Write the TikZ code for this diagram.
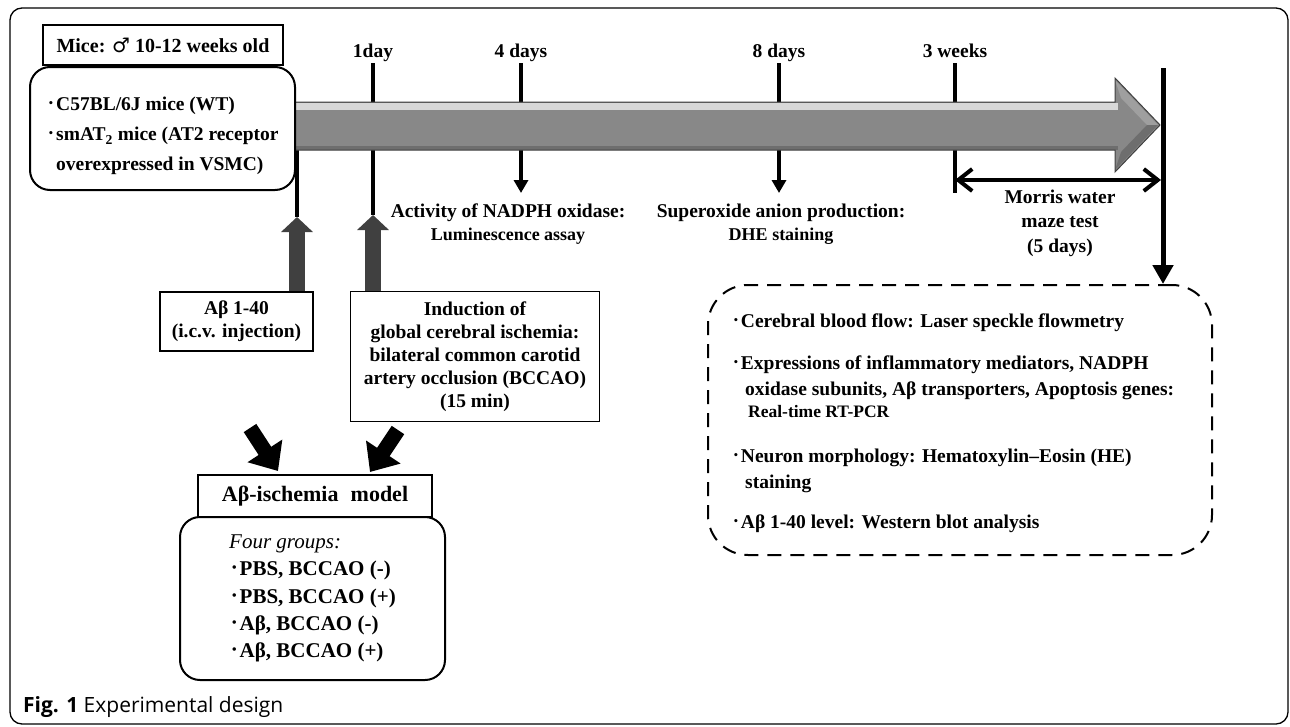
\documentclass[tikz,border=0pt]{standalone}
\usepackage{fontspec}
\setmainfont{Liberation Serif}
\newfontfamily\capfont{Open Sans}
\newfontfamily\symfont{DejaVu Sans}
\newfontfamily\cjk{Noto Sans CJK JP}
\usetikzlibrary{arrows.meta,positioning}
\definecolor{upgray}{HTML}{404040}
\definecolor{shaftmid}{HTML}{888888}
\definecolor{shaftlight}{HTML}{D8D8D8}
\definecolor{shaftdark}{HTML}{6E6E6E}
\newcommand\bul{{\cjk\mdseries ･}}
\tikzstyle{outerframe}=[line width=1.3pt, rounded corners=12pt]
\tikzstyle{box}=[draw, line width=1.5pt, align=center, inner sep=0pt, font=\bfseries\fontsize{19.5}{23}\selectfont]
\tikzstyle{rbox}=[draw, line width=2pt, rounded corners=20pt, align=left, inner sep=0pt, font=\bfseries\fontsize{19.5}{30}\selectfont]
\tikzstyle{dbox}=[draw, line width=2pt, rounded corners=40pt, dash pattern=on 14pt off 9pt]
\tikzstyle{day}=[anchor=base, text depth=4pt, inner sep=2pt, font=\bfseries\fontsize{19.5}{23}\selectfont]
\tikzstyle{txt}=[align=center, inner sep=0pt, font=\bfseries\fontsize{19.5}{23}\selectfont]
\tikzstyle{item}=[anchor=base west, inner sep=0pt, font=\bfseries\fontsize{19.5}{23}\selectfont]
\tikzstyle{small}=[font=\bfseries\fontsize{17.5}{20}\selectfont]
\tikzstyle{tick}=[line width=4pt]
\tikzstyle{down}=[line width=4pt, -{Triangle[width=14pt,length=13pt]}]
\tikzstyle{enddown}=[line width=5pt, -{Triangle[width=20pt,length=19pt]}]
\tikzstyle{span}=[line width=4pt, {Straight Barb[width=22pt,length=14pt]}-{Straight Barb[width=22pt,length=14pt]}]
\tikzstyle{push}=[line width=16pt, color=upgray, -{Triangle[width=31pt,length=15pt]}]
\tikzstyle{block}=[line width=15pt, -{Triangle[width=40pt,length=24pt]}]
\begin{document}
\begin{tikzpicture}[x=1pt,y=-1pt]
\useasboundingbox (0,0) rectangle (1290,726);
\draw[outerframe] (10,8) rectangle (1288,724);

% time points
\draw (373,57) node[day] (d1) {1day};
\draw (521,57) node[day] (d4) {4 days};
\draw (779,57) node[day] (d8) {8 days};
\draw (955,57) node[day] (w3) {3 weeks};
\coordinate (t0) at (297,140);
\coordinate (a0) at (297,217);
\coordinate (a1) at (373,215);
\coordinate (r4) at (521,193);
\coordinate (r8) at (779,193);
\coordinate (m0) at (955,193);
\coordinate (mw) at (955,180);
\coordinate (me) at (1161,180);
\coordinate (etop) at (1163,68);

\draw[tick] (t0) -- (a0);
\draw[tick] (d1.south) -- (a1);
\draw[down] (d4.south) -- (r4);
\draw[down] (d8.south) -- (r8);
\draw[tick] (w3.south) -- (m0);

% timeline arrow
\fill[shaftmid] (295,102) -- (1115,102) -- (1115,78) -- (1160,125) -- (1115,172) -- (1115,150) -- (295,150) -- cycle;
\fill[shaftlight] (295,103) rectangle (1118,110);
\fill[shaftdark] (295,146) rectangle (1118,150);
\fill[gray!75] (1115,80) -- (1158,125) -- (1147,125) -- (1121,98) -- cycle;
\fill[shaftdark] (1158,125) -- (1115,170) -- (1121,152) -- (1147,125) -- cycle;
\draw[line width=1pt, gray!50!black] (295,102) -- (1115,102) -- (1115,78) -- (1160,125) -- (1115,172) -- (1115,150) -- (295,150);

\draw[span] (mw) -- (me);

% mice
\draw (163,45) node[box, minimum width=240pt, minimum height=40pt, font=\bfseries\fontsize{20}{23}\selectfont] (mice) {Mice: {\symfont\bfseries ♂} 10-12 weeks old};
\draw (162.5,128.5) node[rbox, minimum width=265pt, minimum height=123pt] (strains) {\rule{0pt}{29pt}\bul C57BL/6J mice (WT)\\\bul smAT\textsubscript{2} mice (AT2 receptor\\\hphantom{\bul}overexpressed in VSMC)};

% measurements on the way
\draw (508,224) node[txt] (act) {Activity of NADPH oxidase:\\{\fontsize{18}{20}\selectfont Luminescence assay}};
\draw (781,224) node[txt] (sox) {Superoxide anion production:\\{\fontsize{18}{20}\selectfont DHE staining}};
\draw (1060,223) node[txt, font=\bfseries\fontsize{19.5}{24.5}\selectfont] (mwm) {Morris water\\maze test\\(5 days)};

% interventions
\draw (236.5,321.5) node[box, minimum width=153pt, minimum height=59pt] (ab) {Aβ 1-40\\(i.c.v. injection)};
\draw (475,356.5) node[box, minimum width=249pt, minimum height=130pt] (induct) {Induction of\\global cerebral ischemia:\\bilateral common carotid\\artery occlusion (BCCAO)\\(15 min)};
\draw[push] (ab.north -| a0) -- (a0);
\draw[push] (induct.north -| a1) -- (a1);

% model
\coordinate (k1) at (250,428);
\coordinate (k2) at (278,471);
\coordinate (k3) at (398,430);
\coordinate (k4) at (370,472);
\draw[block] (k1) -- (k2);
\draw[block] (k3) -- (k4);
\draw (315,496) node[box, minimum width=234pt, minimum height=42pt, font=\bfseries\fontsize{22}{24}\selectfont] (model) {Aβ-ischemia\hspace{0.55em}model};
\draw (312.5,598.5) node[rbox, minimum width=265pt, minimum height=163pt, font=\bfseries\fontsize{21}{27.3}\selectfont] (groups) {{\mdseries\itshape Four groups:}\\\bul PBS, BCCAO (-)\\\bul PBS, BCCAO (+)\\\bul Aβ, BCCAO (-)\\\bul Aβ, BCCAO (+)};

% analyses
\draw (960,420) node[dbox, minimum width=504pt, minimum height=270pt] (meas) {};
\draw[enddown] (etop) -- (meas.north -| etop);
\draw (731,327) node[item] (cbf) {\bul Cerebral blood flow: Laser speckle flowmetry};
\draw (731,369) node[item] (expr) {\bul Expressions of inflammatory mediators, NADPH};
\draw (745,395) node[item] (expr2) {oxidase subunits, Aβ transporters, Apoptosis genes:};
\draw (748,417) node[item, small] (pcr) {Real-time RT-PCR};
\draw (731,462) node[item] (neur) {\bul Neuron morphology: Hematoxylin–Eosin (HE)};
\draw (745,488) node[item] (neur2) {staining};
\draw (731,528) node[item] (wb) {\bul Aβ 1-40 level: Western blot analysis};

\draw (23,712) node[anchor=base west, inner sep=0pt, font=\capfont\fontsize{21}{23}\selectfont] (cap) {\textbf{Fig. 1} Experimental design};
\end{tikzpicture}
\end{document}
